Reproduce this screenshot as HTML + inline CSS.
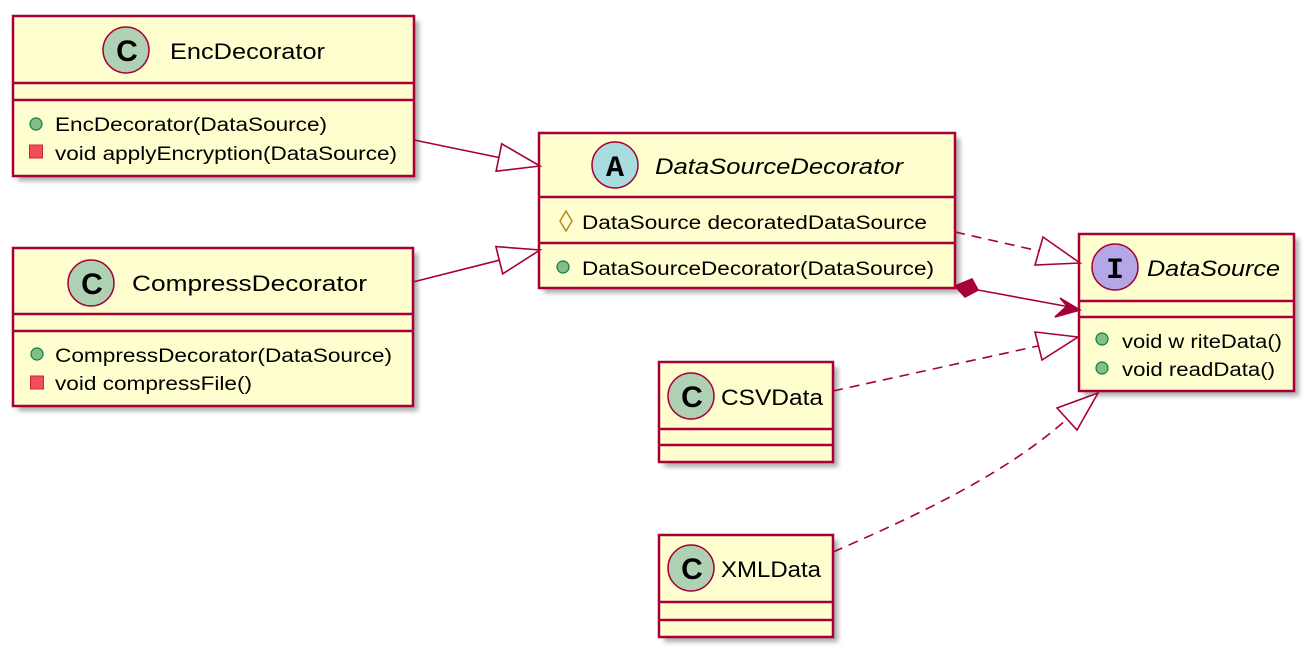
<!DOCTYPE html>
<html><head><meta charset="utf-8"><style>
html,body{margin:0;padding:0;background:#fff;}
svg{display:block;}
text{font-family:"Liberation Sans",sans-serif;fill:#000;}
</style></head><body>
<svg width="1314" height="656" viewBox="0 0 1314 656" xmlns="http://www.w3.org/2000/svg">
<defs>
<filter id="sh" x="-10%" y="-10%" width="130%" height="140%">
<feGaussianBlur stdDeviation="2.5"/>
</filter>
</defs>
<g fill="#999" filter="url(#sh)" opacity="0.8">
<rect x="18" y="21" width="401" height="160"/>
<rect x="18" y="253" width="400" height="158"/>
<rect x="544" y="138" width="416" height="155"/>
<rect x="1084" y="239" width="215" height="157"/>
<rect x="664" y="367" width="174" height="100"/>
<rect x="664" y="540" width="174" height="102"/>
</g>
<g stroke="#A80036" stroke-width="2.5" fill="#FEFECE">
<rect x="13" y="16" width="401" height="160"/>
<rect x="13" y="248" width="400" height="158"/>
<rect x="539" y="133" width="416" height="155"/>
<rect x="1079" y="234" width="215" height="157"/>
<rect x="659" y="362" width="174" height="100"/>
<rect x="659" y="535" width="174" height="102"/>
<line x1="13" y1="83" x2="414" y2="83"/><line x1="13" y1="100" x2="414" y2="100"/>
<line x1="13" y1="314" x2="413" y2="314"/><line x1="13" y1="331" x2="413" y2="331"/>
<line x1="539" y1="197" x2="955" y2="197"/><line x1="539" y1="243" x2="955" y2="243"/>
<line x1="1079" y1="301" x2="1294" y2="301"/><line x1="1079" y1="317" x2="1294" y2="317"/>
<line x1="659" y1="429" x2="833" y2="429"/><line x1="659" y1="445" x2="833" y2="445"/>
<line x1="659" y1="602" x2="833" y2="602"/><line x1="659" y1="620" x2="833" y2="620"/>
</g>
<g stroke="#A80036" stroke-width="1.5">
<circle cx="126" cy="50" r="23" fill="#ADD1B2"/>
<circle cx="91" cy="283" r="23" fill="#ADD1B2"/>
<circle cx="615" cy="165" r="23" fill="#A9DCDF"/>
<circle cx="1115" cy="267" r="23" fill="#B4A7E5"/>
<circle cx="691" cy="396" r="23" fill="#ADD1B2"/>
<circle cx="691" cy="568" r="23" fill="#ADD1B2"/>
</g>
<g font-weight="bold" text-anchor="middle" font-size="30">
<text x="127" y="61">C</text><text x="92" y="294">C</text>
<text x="692" y="407">C</text><text x="692" y="579">C</text>
</g>
<g font-weight="bold" text-anchor="middle" style="font-family:'Liberation Mono',monospace" font-size="30">
<text x="615" y="176" style="font-family:'Liberation Mono',monospace">A</text>
<text x="1115" y="278" style="font-family:'Liberation Mono',monospace">I</text>
</g>
<g font-size="22" lengthAdjust="spacingAndGlyphs">
<text x="170" y="59" textLength="155" lengthAdjust="spacingAndGlyphs">EncDecorator</text>
<text x="132" y="291" textLength="235" lengthAdjust="spacingAndGlyphs">CompressDecorator</text>
<text x="655" y="174" font-style="italic" textLength="248" lengthAdjust="spacingAndGlyphs">DataSourceDecorator</text>
<text x="1147" y="276" font-style="italic" textLength="133" lengthAdjust="spacingAndGlyphs">DataSource</text>
<text x="721" y="405" textLength="102" lengthAdjust="spacingAndGlyphs">CSVData</text>
<text x="721" y="577" textLength="100" lengthAdjust="spacingAndGlyphs">XMLData</text>
</g>
<g font-size="19">
<text x="55" y="131" textLength="272" lengthAdjust="spacingAndGlyphs">EncDecorator(DataSource)</text>
<text x="55" y="160" textLength="342" lengthAdjust="spacingAndGlyphs">void applyEncryption(DataSource)</text>
<text x="55" y="362" textLength="337" lengthAdjust="spacingAndGlyphs">CompressDecorator(DataSource)</text>
<text x="55" y="390" textLength="197" lengthAdjust="spacingAndGlyphs">void compressFile()</text>
<text x="582" y="229" textLength="345" lengthAdjust="spacingAndGlyphs">DataSource decoratedDataSource</text>
<text x="582" y="275" textLength="352" lengthAdjust="spacingAndGlyphs">DataSourceDecorator(DataSource)</text>
<text x="1122" y="348" textLength="160" lengthAdjust="spacingAndGlyphs">void w riteData()</text>
<text x="1122" y="376" textLength="153" lengthAdjust="spacingAndGlyphs">void readData()</text>
</g>
<g fill="#84BE84" stroke="#038048" stroke-width="1.2">
<circle cx="36" cy="124" r="6"/>
<circle cx="37" cy="354" r="6"/>
<circle cx="563" cy="267" r="6"/>
<circle cx="1102" cy="339" r="6"/>
<circle cx="1102" cy="368" r="6"/>
</g>
<g fill="#F24D5C" stroke="#C82930" stroke-width="1">
<rect x="29.5" y="145" width="13" height="13"/>
<rect x="30.5" y="376" width="13" height="13"/>
</g>
<polygon points="566,211 572,221 566,231 560,221" fill="none" stroke="#B38D22" stroke-width="1.5"/>
<g stroke="#A80036" stroke-width="1.6" fill="none">
<line x1="414" y1="140" x2="498.9" y2="157.5"/>
<polygon points="540,166 496.1,171.2 501.7,143.8" fill="#fff"/>
<line x1="413" y1="282" x2="499.3" y2="260.2"/>
<polygon points="540,250 502.7,273.8 495.9,246.6" fill="#fff"/>
<line x1="955" y1="232" x2="1039" y2="251" stroke-dasharray="10,7"/>
<polygon points="1080,263 1035,265 1043,237" fill="#fff"/>
<line x1="833" y1="391" x2="1038" y2="346" stroke-dasharray="10,7"/>
<polygon points="1078,337 1035,332 1042,360" fill="#fff"/>
<path d="M833,552 C930,510 1010,470 1067,419" stroke-dasharray="10,7"/>
<polygon points="1098,393 1057,408 1077,430" fill="#fff"/>
<line x1="978" y1="290" x2="1070" y2="307"/>
<polygon points="955,286 972,279 978,290 965,297" fill="#A80036"/>
<polygon points="1080,310 1060,298 1067,306 1055,317" fill="#A80036"/>
</g>
</svg>
</body></html>
